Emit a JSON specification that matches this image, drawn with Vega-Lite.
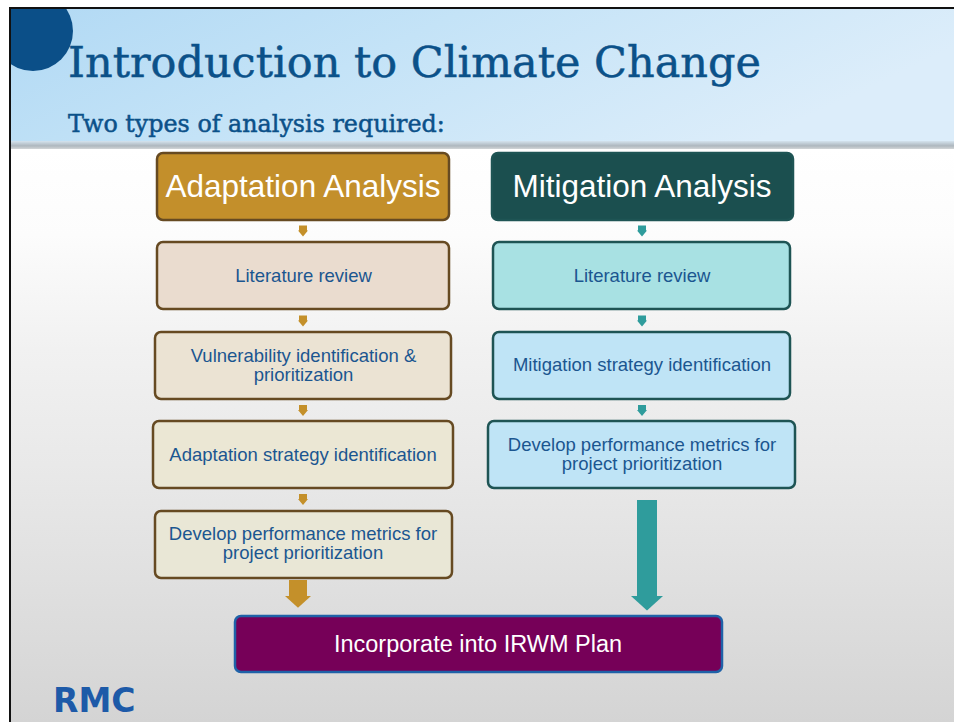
{
  "$schema": "https://vega.github.io/schema/vega-lite/v6.json",
  "width": 954,
  "height": 722,
  "autosize": {"type": "none"},
  "padding": 0,
  "background": "white",
  "config": {"view": {"stroke": null}},
  "datasets": {
    "boxes": [
      {"id": "a0", "group": "Adaptation", "level": "header", "x": 157, "x2": 449, "y": 153, "y2": 220, "cx": 303, "ty": 197, "label": "Adaptation Analysis"},
      {"id": "m0", "group": "Mitigation", "level": "header", "x": 492, "x2": 793, "y": 153, "y2": 220, "cx": 642, "ty": 197, "label": "Mitigation Analysis"},
      {"id": "a1", "group": "Adaptation", "level": "step", "x": 157, "x2": 449, "y": 242, "y2": 309, "cx": 303.5, "ty": 281.5, "label": "Literature review"},
      {"id": "m1", "group": "Mitigation", "level": "step", "x": 493, "x2": 790, "y": 242, "y2": 309, "cx": 642, "ty": 281.5, "label": "Literature review"},
      {"id": "a2", "group": "Adaptation", "level": "step", "x": 155, "x2": 451, "y": 332, "y2": 399, "cx": 303.5, "ty": 361.5, "label": "Vulnerability identification &\nprioritization"},
      {"id": "m2", "group": "Mitigation", "level": "step", "x": 493, "x2": 790, "y": 332, "y2": 399, "cx": 642, "ty": 370.5, "label": "Mitigation strategy identification"},
      {"id": "a3", "group": "Adaptation", "level": "step", "x": 153, "x2": 453, "y": 421, "y2": 488, "cx": 303, "ty": 460.5, "label": "Adaptation strategy identification"},
      {"id": "m3", "group": "Mitigation", "level": "step", "x": 488, "x2": 795, "y": 421, "y2": 488, "cx": 642, "ty": 450.5, "label": "Develop performance metrics for\nproject prioritization"},
      {"id": "a4", "group": "Adaptation", "level": "step", "x": 155, "x2": 452, "y": 511, "y2": 578, "cx": 303, "ty": 539.5, "label": "Develop performance metrics for\nproject prioritization"},
      {"id": "f", "group": "Plan", "level": "final", "x": 235, "x2": 722, "y": 616, "y2": 672, "cx": 478, "ty": 651.5, "label": "Incorporate into IRWM Plan"}
    ],
    "smallArrows": [
      {"group": "Adaptation", "x": 303, "y": 231},
      {"group": "Adaptation", "x": 303, "y": 321},
      {"group": "Adaptation", "x": 303, "y": 410.5},
      {"group": "Adaptation", "x": 303, "y": 499.5},
      {"group": "Mitigation", "x": 642, "y": 231},
      {"group": "Mitigation", "x": 642, "y": 321},
      {"group": "Mitigation", "x": 642, "y": 410.5}
    ],
    "bigArrows": [
      {"group": "Adaptation", "x": 289, "x2": 307, "y": 580, "y2": 597, "hx": 298, "hy": 596},
      {"group": "Mitigation", "x": 637, "x2": 657, "y": 500, "y2": 597, "hx": 647, "hy": 596}
    ]
  },
  "resolve": {"scale": {"color": "independent", "fill": "independent", "stroke": "independent", "size": "independent", "shape": "independent"}},
  "layer": [
    {
      "data": {"values": [{"x": 9, "x2": 954, "y": 7, "y2": 142}]},
      "mark": {"type": "rect", "fill": {"gradient": "linear", "x1": 0, "y1": 0, "x2": 1, "y2": 0.3, "stops": [{"offset": 0, "color": "#b1d9f4"}, {"offset": 0.45, "color": "#c4e3f7"}, {"offset": 1, "color": "#dcedfa"}]}},
      "encoding": {
        "x": {"field": "x", "type": "quantitative", "scale": {"domain": [0, 954], "nice": false, "zero": false}, "axis": null},
        "x2": {"field": "x2"},
        "y": {"field": "y", "type": "quantitative", "scale": {"domain": [0, 722], "nice": false, "zero": false, "reverse": true}, "axis": null},
        "y2": {"field": "y2"}
      }
    },
    {
      "data": {"values": [{"x": 9, "x2": 954, "y": 141, "y2": 149}]},
      "mark": {"type": "rect", "fill": {"gradient": "linear", "x1": 0, "y1": 0, "x2": 0, "y2": 1, "stops": [{"offset": 0, "color": "#d4e3ee"}, {"offset": 0.6, "color": "#aeb7be"}, {"offset": 1, "color": "#d2d5d7"}]}},
      "encoding": {"x": {"field": "x", "type": "quantitative"}, "x2": {"field": "x2"}, "y": {"field": "y", "type": "quantitative"}, "y2": {"field": "y2"}}
    },
    {
      "data": {"values": [{"x": 9, "x2": 954, "y": 149, "y2": 722}]},
      "mark": {"type": "rect", "fill": {"gradient": "linear", "x1": 0, "y1": 0, "x2": 0, "y2": 1, "stops": [{"offset": 0, "color": "#ffffff"}, {"offset": 0.15, "color": "#fcfcfc"}, {"offset": 0.35, "color": "#f1f1f1"}, {"offset": 0.55, "color": "#e9e9e9"}, {"offset": 0.75, "color": "#e0e0e0"}, {"offset": 1, "color": "#d4d4d4"}]}},
      "encoding": {"x": {"field": "x", "type": "quantitative"}, "x2": {"field": "x2"}, "y": {"field": "y", "type": "quantitative"}, "y2": {"field": "y2"}}
    },
    {
      "data": {"values": [{"x": 33, "y": 31}]},
      "mark": {"type": "point", "shape": "circle", "filled": true, "size": 6400, "color": "#0b4f88", "opacity": 1, "strokeWidth": 0},
      "encoding": {"x": {"field": "x", "type": "quantitative"}, "y": {"field": "y", "type": "quantitative"}}
    },
    {
      "data": {"values": [{"x": 0, "x2": 9, "y": 0, "y2": 722}, {"x": 0, "x2": 954, "y": 0, "y2": 7}]},
      "mark": {"type": "rect", "color": "white"},
      "encoding": {"x": {"field": "x", "type": "quantitative"}, "x2": {"field": "x2"}, "y": {"field": "y", "type": "quantitative"}, "y2": {"field": "y2"}}
    },
    {
      "data": {"values": [{"x": 9, "x2": 11, "y": 7, "y2": 722}, {"x": 9, "x2": 954, "y": 7, "y2": 9}]},
      "mark": {"type": "rect", "color": "#111111"},
      "encoding": {"x": {"field": "x", "type": "quantitative"}, "x2": {"field": "x2"}, "y": {"field": "y", "type": "quantitative"}, "y2": {"field": "y2"}}
    },
    {
      "data": {"values": [{"label": "Introduction to Climate Change", "role": "title", "x": 68, "y": 77}, {"label": "Two types of analysis required:", "role": "subtitle", "x": 68, "y": 132}]},
      "mark": {"type": "text", "align": "left", "baseline": "alphabetic", "font": "DejaVu Serif", "color": "#0b5189", "stroke": "#0b5189", "strokeWidth": 0.5},
      "encoding": {
        "x": {"field": "x", "type": "quantitative"},
        "y": {"field": "y", "type": "quantitative"},
        "text": {"field": "label"},
        "size": {"field": "role", "type": "nominal", "scale": {"type": "ordinal", "domain": ["title", "subtitle"], "range": [43, 23.8]}, "legend": null}
      }
    },
    {
      "data": {"name": "boxes"},
      "mark": {"type": "rect", "cornerRadius": 6, "strokeWidth": 2.5, "opacity": 1},
      "encoding": {
        "x": {"field": "x", "type": "quantitative"},
        "x2": {"field": "x2"},
        "y": {"field": "y", "type": "quantitative"},
        "y2": {"field": "y2"},
        "fill": {"field": "id", "type": "nominal", "scale": {"domain": ["a0", "m0", "a1", "m1", "a2", "m2", "a3", "m3", "a4", "f"], "range": ["#c38f2b", "#1b4f4f", "#eadccf", "#a8e1e3", "#ebe3d3", "#bfe4f6", "#ebe7d4", "#bfe4f6", "#e9e7d6", "#760058"]}, "legend": null},
        "stroke": {"field": "group", "type": "nominal", "scale": {"domain": ["Adaptation", "Mitigation", "Plan"], "range": ["#664a22", "#1e5454", "#1f62a8"]}, "legend": null}
      }
    },
    {
      "data": {"name": "boxes"},
      "mark": {"type": "text", "align": "center", "baseline": "alphabetic", "font": "Liberation Sans", "lineBreak": "\n", "lineHeight": 19.5},
      "encoding": {
        "x": {"field": "cx", "type": "quantitative"},
        "y": {"field": "ty", "type": "quantitative"},
        "text": {"field": "label"},
        "color": {"field": "level", "type": "nominal", "scale": {"domain": ["header", "step", "final"], "range": ["#ffffff", "#1b5690", "#ffffff"]}, "legend": null},
        "size": {"field": "level", "type": "nominal", "scale": {"type": "ordinal", "domain": ["header", "step", "final"], "range": [31.5, 18.5, 23.5]}, "legend": null}
      }
    },
    {
      "data": {"name": "smallArrows"},
      "mark": {"type": "point", "filled": true, "opacity": 1, "strokeWidth": 0, "size": 100, "shape": "M-0.8,-1.1L0.8,-1.1L0.8,-0.1L1,-0.1L0,1.1L-1,-0.1L-0.8,-0.1Z"},
      "encoding": {
        "x": {"field": "x", "type": "quantitative"},
        "y": {"field": "y", "type": "quantitative"},
        "color": {"field": "group", "type": "nominal", "scale": {"domain": ["Adaptation", "Mitigation"], "range": ["#c4902a", "#2f9c9c"]}, "legend": null}
      }
    },
    {
      "data": {"name": "bigArrows"},
      "mark": {"type": "rect"},
      "encoding": {
        "x": {"field": "x", "type": "quantitative"},
        "x2": {"field": "x2"},
        "y": {"field": "y", "type": "quantitative"},
        "y2": {"field": "y2"},
        "fill": {"field": "group", "type": "nominal", "scale": {"domain": ["Adaptation", "Mitigation"], "range": ["#c4902a", "#2f9c9c"]}, "legend": null}
      }
    },
    {
      "data": {"name": "bigArrows"},
      "mark": {"type": "point", "filled": true, "opacity": 1, "strokeWidth": 0, "shape": "M-1,0L1,0L0,0.9Z"},
      "encoding": {
        "x": {"field": "hx", "type": "quantitative"},
        "y": {"field": "hy", "type": "quantitative"},
        "size": {"field": "group", "type": "nominal", "scale": {"type": "ordinal", "domain": ["Adaptation", "Mitigation"], "range": [676, 1024]}, "legend": null},
        "color": {"field": "group", "type": "nominal", "scale": {"domain": ["Adaptation", "Mitigation"], "range": ["#c4902a", "#2f9c9c"]}, "legend": null}
      }
    },
    {
      "data": {"values": [{"label": "RMC", "x": 53, "y": 712}]},
      "mark": {"type": "text", "align": "left", "baseline": "alphabetic", "font": "DejaVu Sans", "fontWeight": "bold", "fontSize": 33, "color": "#1d5aa8"},
      "encoding": {"x": {"field": "x", "type": "quantitative"}, "y": {"field": "y", "type": "quantitative"}, "text": {"field": "label"}}
    }
  ]
}
